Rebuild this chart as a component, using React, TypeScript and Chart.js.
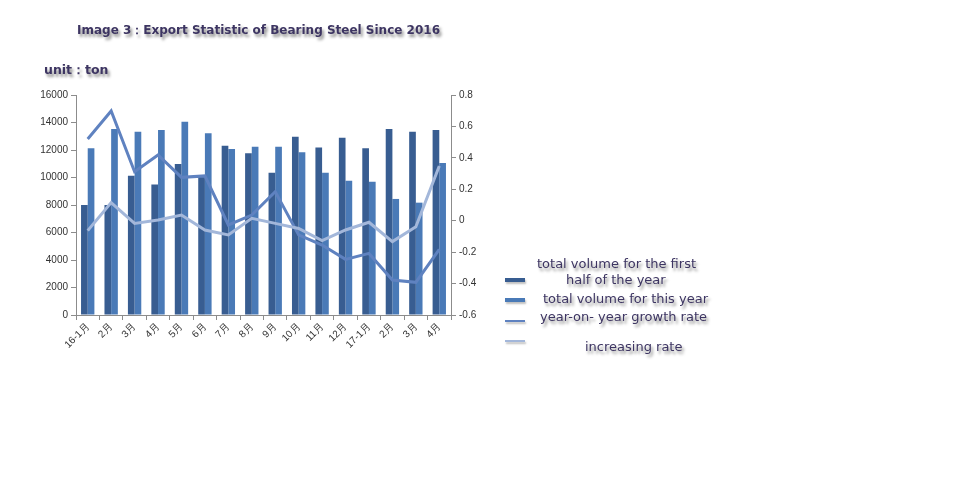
import React, { useEffect, useRef } from "react";
import { Chart, registerables } from "chart.js";

Chart.register(...registerables);

const categories = ["16-1月", "2月", "3月", "4月", "5月", "6月", "7月", "8月", "9月", "10月", "11月", "12月", "17-1月", "2月", "3月", "4月"];
const firstHalfVolume = [8000, 8000, 10130, 9500, 10980, 10180, 12310, 11760, 10350, 12970, 12190, 12900, 12120, 13530, 13330, 13450];
const thisYearVolume = [12120, 13530, 13330, 13450, 14060, 13210, 12070, 12240, 12240, 11830, 10350, 9770, 9700, 8440, 8170, 11050];
const yoyGrowthRate = [0.52, 0.698, 0.312, 0.418, 0.276, 0.285, -0.027, 0.036, 0.185, -0.09, -0.155, -0.246, -0.208, -0.377, -0.392, -0.182];
const increasingRate = [-0.063, 0.115, -0.017, 0.005, 0.036, -0.059, -0.09, 0.015, -0.017, -0.049, -0.127, -0.059, -0.01, -0.133, -0.038, 0.348];

const seriesNames = ["total volume for the first half of the year", "total volume for this year", "year-on- year growth rate", "increasing rate"];

const DARK = "#385d91";
const MID = "#4a7ab7";
const LINE1 = "#5f82c0";
const LINE2 = "#a3b7da";
const TEXT = "#3d3562";
const SHADOW = "2px 3px 3px rgba(0,0,0,0.45)";

export default function App() {
  const ref = useRef<HTMLCanvasElement | null>(null);

  useEffect(() => {
    if (!ref.current) return;
    const tickFont = { family: "'Liberation Sans', Arial, sans-serif", size: 10 };
    const chart = new Chart(ref.current, {
      type: "bar",
      data: {
        labels: categories,
        datasets: [
          {
            type: "line",
            label: seriesNames[2],
            data: yoyGrowthRate,
            yAxisID: "y1",
            borderColor: LINE1,
            backgroundColor: LINE1,
            borderWidth: 3,
            pointRadius: 0,
            tension: 0,
            order: 1,
          },
          {
            type: "line",
            label: seriesNames[3],
            data: increasingRate,
            yAxisID: "y1",
            borderColor: LINE2,
            backgroundColor: LINE2,
            borderWidth: 3,
            pointRadius: 0,
            tension: 0,
            order: 0,
          },
          {
            type: "bar",
            label: seriesNames[0],
            data: firstHalfVolume,
            yAxisID: "y",
            backgroundColor: DARK,
            categoryPercentage: 0.57,
            barPercentage: 1,
            order: 2,
          },
          {
            type: "bar",
            label: seriesNames[1],
            data: thisYearVolume,
            yAxisID: "y",
            backgroundColor: MID,
            categoryPercentage: 0.57,
            barPercentage: 1,
            order: 2,
          },
        ],
      },
      options: {
        responsive: false,
        animation: false,
        layout: { padding: { left: 0, top: 95, right: 458, bottom: 148 } },
        plugins: { legend: { display: false }, tooltip: { enabled: false }, title: { display: false } },
        scales: {
          x: {
            grid: { display: true, drawOnChartArea: false, color: "#8c8c8c", tickLength: 5, offset: true },
            border: { color: "#8c8c8c" },
            ticks: { font: tickFont, color: "#333", maxRotation: 45, minRotation: 45, autoSkip: false, padding: 1 },
            afterFit: (s: any) => { s.height = 40; },
          },
          y: {
            position: "left",
            min: 0,
            max: 16000,
            ticks: { stepSize: 2000, font: tickFont, color: "#333", padding: 3, callback: (v: any) => String(v) },
            grid: { display: true, drawOnChartArea: false, color: "#8c8c8c", tickLength: 5 },
            border: { color: "#8c8c8c" },
            afterFit: (s: any) => { s.width = 76; },
          },
          y1: {
            position: "right",
            min: -0.6,
            max: 0.8,
            ticks: { stepSize: 0.2, font: tickFont, color: "#333", padding: 3, callback: (v: any) => String(Number(Number(v).toFixed(1))) },
            grid: { display: true, drawOnChartArea: false, color: "#8c8c8c", tickLength: 5 },
            border: { color: "#8c8c8c" },
            afterFit: (s: any) => { s.width = 45; },
          },
        },
      },
    } as any);
    return () => chart.destroy();
  }, []);

  const txt = (content: string, left: number, cy: number, size = 13, weight: number | string = "normal"): React.ReactElement => (
    <div
      style={{
        position: "absolute",
        left,
        top: cy - 8,
        lineHeight: "16px",
        fontSize: size,
        fontWeight: weight as any,
        fontFamily: "'DejaVu Sans', Verdana, sans-serif",
        color: TEXT,
        whiteSpace: "nowrap",
        textShadow: SHADOW,
      }}
    >
      {content}
    </div>
  );

  const swatch = (left: number, top: number, h: number, color: string) => (
    <div style={{ position: "absolute", left, top, width: 20, height: h, background: color, boxShadow: "1px 2px 2px rgba(0,0,0,0.25)" }} />
  );

  return (
    <div style={{ position: "absolute", left: 0, top: 0, width: 954, height: 503, background: "#fff", overflow: "hidden" }}>
      <canvas ref={ref} width={954} height={503} style={{ position: "absolute", left: 0, top: 0, width: 954, height: 503 }} />
      {txt("Image 3：Export Statistic of Bearing Steel Since 2016", 77, 30, 12, "bold")}
      {txt("unit：ton", 44, 70, 12.5, "bold")}
      {swatch(505, 278, 4, DARK)}
      {swatch(505, 298, 4, MID)}
      {swatch(505, 320, 2, LINE1)}
      {swatch(505, 340, 2, LINE2)}
      {txt("total volume for the first", 537, 264)}
      {txt("half of the year", 566, 280)}
      {txt("total volume for this year", 543, 299)}
      {txt("year-on- year growth rate", 540, 317)}
      {txt("increasing rate", 585, 347)}
    </div>
  );
}
